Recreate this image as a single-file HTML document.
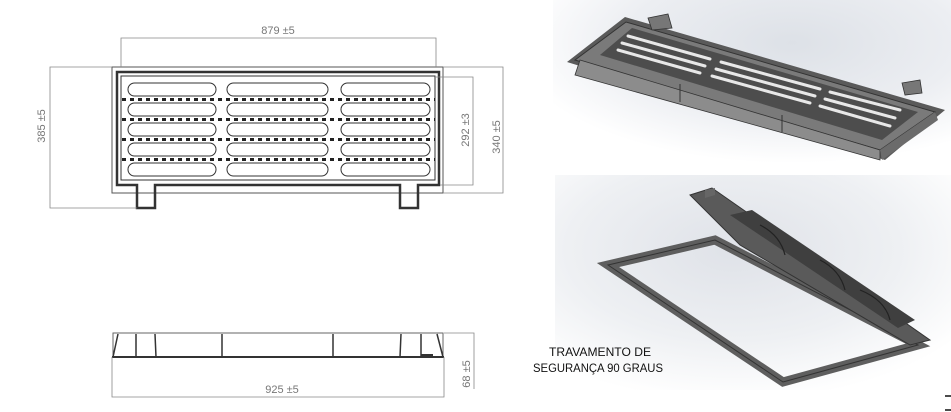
<!DOCTYPE html>
<html><head><meta charset="utf-8"><style>
html,body{margin:0;padding:0;background:#fff;width:951px;height:412px;overflow:hidden}
svg{display:block}
.d{font-family:"Liberation Sans",sans-serif;font-size:11px;fill:#777}
</style></head><body>
<svg width="951" height="412" viewBox="0 0 951 412" xmlns="http://www.w3.org/2000/svg">
<defs>
<radialGradient id="bg1" cx="0.6" cy="0.25" r="0.7"><stop offset="0" stop-color="#dde1e7"/><stop offset="0.6" stop-color="#eceef2"/><stop offset="1" stop-color="#fff"/></radialGradient>
<radialGradient id="bg2" cx="0.45" cy="0.35" r="0.7"><stop offset="0" stop-color="#dfe2e8"/><stop offset="0.6" stop-color="#eef0f3"/><stop offset="1" stop-color="#fff"/></radialGradient>
</defs>
<!-- TOP VIEW -->
<g stroke="#333" fill="none">
<rect x="112" y="67" width="331" height="126" stroke="#555" stroke-width="1"/>
<path d="M117 72 H439 V185 H418 V208 H400 V185 H155 V208 H137 V185 H117 Z" stroke-width="2.5"/>
<rect x="121" y="76" width="314" height="104" stroke-width="1"/>
</g>
<g fill="#fff" stroke="#333" stroke-width="1">
<g id="row">
<rect x="128" y="83" width="88" height="13" rx="6.5"/>
<rect x="227" y="83" width="101" height="13" rx="6.5"/>
<rect x="341" y="83" width="89" height="13" rx="6.5"/>
</g>
<use href="#row" y="20"/><use href="#row" y="40"/><use href="#row" y="60"/><use href="#row" y="80"/>
</g>
<g stroke="#222" stroke-width="3" stroke-dasharray="4 4">
<line x1="122" y1="99.5" x2="435" y2="99.5"/><line x1="122" y1="119.5" x2="435" y2="119.5"/>
<line x1="122" y1="139.5" x2="435" y2="139.5"/><line x1="122" y1="159.5" x2="435" y2="159.5"/>
</g>
<!-- dims top view -->
<g stroke="#888" stroke-width="0.8" fill="none">
<path d="M121 67 V38 H436 V67"/>
<path d="M112 67 H50 V208 H137"/>
<path d="M435 77 H473 V185 H440"/>
<path d="M443 67 H503 V193 H443"/>
</g>
<text class="d" x="278" y="34" text-anchor="middle">879 ±5</text>
<text class="d" transform="translate(45,126) rotate(-90)" text-anchor="middle">385 ±5</text>
<text class="d" transform="translate(469,130) rotate(-90)" text-anchor="middle">292 ±3</text>
<text class="d" transform="translate(500,137) rotate(-90)" text-anchor="middle">340 ±5</text>
<!-- SIDE VIEW -->
<g stroke="#333" fill="none" stroke-width="1">
<rect x="113" y="333" width="330" height="24" stroke="#666"/>
<line x1="112" y1="357" x2="444" y2="357" stroke-width="2"/>
<path d="M113 357 L118 334 M136 334 V357 M155 334 L156 357 M222 334 V357 M333 334 V357 M401 334 L400 357 M421 334 V357 M437 334 L443 357" stroke-width="1.5"/>
<path d="M421 355 H433" stroke-width="2"/>
</g>
<g stroke="#888" stroke-width="0.8" fill="none">
<path d="M112 357 V397 H444 V357"/>
<path d="M444 333 H474 V389"/>
</g>
<text class="d" x="282" y="393" text-anchor="middle">925 ±5</text>
<text class="d" transform="translate(470,374) rotate(-90)" text-anchor="middle">68 ±5</text>
<!-- 3D RENDER TOP -->
<rect x="553" y="0" width="398" height="172" fill="url(#bg1)"/>
<polygon points="567,62 625,17 945,110 885,160" fill="#5a5a5a"/>
<polygon points="575,60 626,22 935,112 880,150" fill="#7a7a7a" stroke="#333" stroke-width="1"/>
<polygon points="580,60 880,150 880,160 575,75" fill="#8c8c8c" stroke="#333" stroke-width="0.8"/>
<polygon points="880,150 935,112 938,120 882,160" fill="#6b6b6b"/>
<polygon points="600,55 632,28 918,112 882,140" fill="#4d4d4d"/>
<g stroke="#e8e8e8" stroke-width="3" stroke-linecap="round">
<line x1="618" y1="50" x2="700" y2="73"/><line x1="712" y1="76" x2="810" y2="103"/><line x1="820" y1="106" x2="890" y2="126"/>
<line x1="622" y1="43" x2="705" y2="66"/><line x1="716" y1="69" x2="815" y2="96"/><line x1="825" y1="99" x2="895" y2="118"/>
<line x1="628" y1="36" x2="710" y2="59"/><line x1="721" y1="62" x2="820" y2="89"/><line x1="830" y1="92" x2="900" y2="110"/>
</g>
<polygon points="648,18 668,14 672,28 652,30" fill="#777" stroke="#333" stroke-width="0.8"/>
<polygon points="902,83 920,80 922,93 905,95" fill="#777" stroke="#333" stroke-width="0.8"/>
<line x1="680" y1="84" x2="680" y2="102" stroke="#333"/><line x1="782" y1="115" x2="782" y2="132" stroke="#333"/>
<!-- 3D RENDER BOTTOM -->
<rect x="555" y="175" width="396" height="215" fill="url(#bg2)"/>
<polygon points="608,265 715,240 918,345 783,382" fill="none" stroke="#5e5e5e" stroke-width="9" stroke-linejoin="miter"/>
<polygon points="608,265 715,240 918,345 783,382" fill="none" stroke="#333" stroke-width="1"/>
<polygon points="690,195 712,188 930,340 910,345 740,245" fill="#5a5a5a" stroke="#333" stroke-width="1"/>
<polygon points="730,215 752,210 915,320 898,328" fill="#3f3f3f"/>
<g stroke="#222" stroke-width="1.2" fill="none">
<path d="M760 225 Q780 235 785 255 M820 260 Q840 270 845 290 M860 290 Q885 300 890 320"/>
</g>
<polygon points="705,190 715,188 715,195 705,198" fill="#666"/>
<!-- text -->
<text x="549" y="356" font-family="Liberation Sans,sans-serif" font-size="11.5" fill="#111" textLength="102" lengthAdjust="spacingAndGlyphs">TRAVAMENTO DE</text>
<text x="533" y="372" font-family="Liberation Sans,sans-serif" font-size="11.5" fill="#111" textLength="130" lengthAdjust="spacingAndGlyphs">SEGURANÇA 90 GRAUS</text>
<line x1="945" y1="396" x2="951" y2="396" stroke="#111" stroke-width="1.5"/>
<line x1="945" y1="410" x2="951" y2="410" stroke="#111" stroke-width="1.5"/>
</svg>
</body></html>
